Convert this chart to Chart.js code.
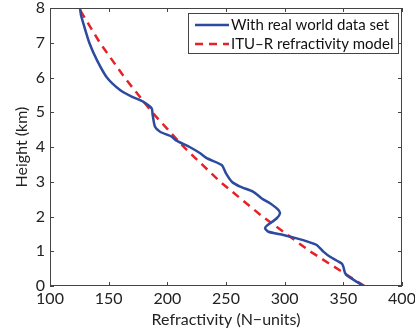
<!DOCTYPE html>
<html>
<head>
<meta charset="utf-8">
<script src="https://cdn.jsdelivr.net/npm/chart.js@4.4.1/dist/chart.umd.min.js"></script>
<style>
  html, body { margin: 0; padding: 0; background: #ffffff; }
  #wrap { width: 415px; height: 332px; position: relative; }
</style>
</head>
<body>
<div id="wrap"><canvas id="refrChart"></canvas></div>
<script>
// Dados
const realHeights = [8, 7.8, 7.56, 7, 6.5, 6, 5.64, 5.45, 5.3, 5.11, 4.92, 4.58, 4.44, 4.3, 4.2, 4.0, 3.82, 3.67, 3.48, 3.24, 3.0, 2.86, 2.71, 2.52, 2.38, 2.19, 2.09, 1.95, 1.73, 1.66, 1.56, 1.47, 1.37, 1.27, 1.18, 0.99, 0.84, 0.65, 0.56, 0.37, 0.27, 0.12, 0];
const realN = [125.6, 126.4, 128.4, 133.5, 140, 148.5, 159.7, 169.6, 179.6, 186.7, 187.5, 189.5, 193.8, 203.7, 207, 219, 228, 234, 246.4, 250, 255, 262, 273.3, 280.5, 287.5, 294.6, 296, 293.3, 284.7, 283.3, 286.1, 298.9, 310.3, 320.2, 327.3, 333, 338.7, 348.6, 350, 351.5, 354.3, 361.5, 367.1];

const ituHeights = [0, 1, 2, 3, 4, 5, 6, 7, 8];
const ituN = [368, 321.5, 281, 245, 214, 187, 163.5, 142.5, 124.5];

const xTicks = [100, 150, 200, 250, 300, 350, 400];
const yTicks = [0, 1, 2, 3, 4, 5, 6, 7, 8];

const seriesLabels = ['With real world data set', 'ITU\u2013R refractivity model'];

const FONT = 'Lato';

function toPoints(xs, ys) {
    return xs.map((x, i) => ({ x: x, y: ys[i] }));
}

// Ticks para dentro nos quatro lados (estilo MATLAB)
const innerTicks = {
    id: 'innerTicks',
    afterDraw(chart) {
        const ctx = chart.ctx;
        const a = chart.chartArea;
        const xs = chart.scales.x, ys = chart.scales.y;
        ctx.save();
        ctx.strokeStyle = '#444';
        ctx.lineWidth = 1;
        ctx.strokeRect(a.left + 0.5, a.top + 0.5, a.right - a.left - 1, a.bottom - a.top - 1);
        const len = 4;
        ctx.beginPath();
        xTicks.forEach(v => {
            const px = Math.round(xs.getPixelForValue(v)) + 0.5;
            ctx.moveTo(px, a.bottom); ctx.lineTo(px, a.bottom - len);
            ctx.moveTo(px, a.top); ctx.lineTo(px, a.top + len);
        });
        yTicks.forEach(v => {
            const py = Math.round(ys.getPixelForValue(v)) + 0.5;
            ctx.moveTo(a.left, py); ctx.lineTo(a.left + len, py);
            ctx.moveTo(a.right, py); ctx.lineTo(a.right - len, py);
        });
        ctx.stroke();
        ctx.restore();
    }
};

// Legenda desenhada dentro da área do gráfico
const boxLegend = {
    id: 'boxLegend',
    afterDraw(chart) {
        const ctx = chart.ctx;
        const bx = 188, by = 13, bw = 210, bh = 40;
        ctx.save();
        ctx.fillStyle = '#ffffff';
        ctx.fillRect(bx, by, bw, bh);
        ctx.strokeStyle = '#444';
        ctx.lineWidth = 1;
        ctx.strokeRect(bx + 0.5, by + 0.5, bw, bh);
        chart.data.datasets.forEach((ds, i) => {
            const y = by + 12 + i * 19;
            ctx.beginPath();
            ctx.strokeStyle = ds.borderColor;
            ctx.lineWidth = ds.borderWidth;
            ctx.setLineDash(ds.borderDash || []);
            ctx.moveTo(195, y); ctx.lineTo(229, y);
            ctx.stroke();
            ctx.setLineDash([]);
            ctx.fillStyle = '#111';
            ctx.font = '15px ' + FONT;
            ctx.textBaseline = 'middle';
            ctx.fillText(ds.label, 231, y);
        });
        ctx.restore();
    }
};

function initChart() {
    const ctx = document.getElementById('refrChart').getContext('2d');

    const data = {
        datasets: [
            {
                label: seriesLabels[0],
                data: toPoints(realN, realHeights),
                borderColor: '#2c4a9e',
                borderWidth: 2.5,
                pointRadius: 0,
                showLine: true,
                tension: 0.2,
                fill: false
            },
            {
                label: seriesLabels[1],
                data: toPoints(ituN, ituHeights),
                borderColor: '#e32229',
                borderWidth: 2.5,
                borderDash: [8, 6],
                pointRadius: 0,
                showLine: true,
                tension: 0,
                fill: false
            }
        ]
    };

    const tickFont = { family: FONT, size: 16 };

    const config = {
        type: 'scatter',
        data: data,
        options: {
            responsive: true,
            maintainAspectRatio: false,
            animation: false,
            layout: { padding: { top: 8, right: 13, left: 0, bottom: 0 } },
            plugins: {
                legend: { display: false },
                tooltip: { enabled: false }
            },
            scales: {
                x: {
                    type: 'linear',
                    min: 100,
                    max: 400,
                    afterBuildTicks: s => { s.ticks = xTicks.map(v => ({ value: v })); },
                    afterFit: s => { s.height = 46; s.paddingLeft = 0; s.paddingRight = 0; },
                    grid: { display: false, drawTicks: false },
                    border: { display: false },
                    ticks: { color: '#222', font: tickFont, padding: 3, maxRotation: 0 },
                    title: { display: true, text: 'Refractivity (N\u2212units)', color: '#222', font: tickFont, padding: { top: 0, bottom: 3 } }
                },
                y: {
                    type: 'linear',
                    min: 0,
                    max: 8,
                    afterBuildTicks: s => { s.ticks = yTicks.map(v => ({ value: v })); },
                    afterFit: s => { s.width = 50; s.paddingTop = 0; s.paddingBottom = 0; },
                    grid: { display: false, drawTicks: false },
                    border: { display: false },
                    ticks: { color: '#222', font: tickFont, padding: 5 },
                    title: { display: true, text: 'Height (km)', color: '#222', font: tickFont, padding: { top: 12, bottom: 0 } }
                }
            }
        },
        plugins: [innerTicks, boxLegend]
    };

    new Chart(ctx, config);
}

document.addEventListener('DOMContentLoaded', initChart);
</script>
</body>
</html>
